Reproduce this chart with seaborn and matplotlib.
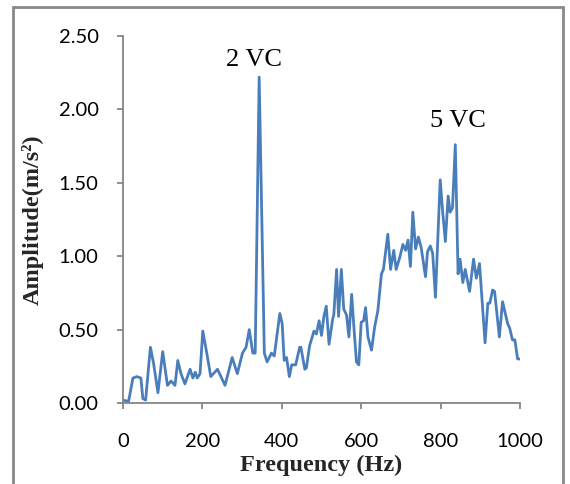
import matplotlib
matplotlib.use("Agg")
import matplotlib.pyplot as plt
from matplotlib.patches import Rectangle
import seaborn as sns
import pandas as pd

freq = [0, 14, 25, 35, 45, 50, 57, 69, 77, 88, 100, 112, 121, 131, 138, 146, 156, 169, 176, 182,
        187, 194, 201, 211, 221, 238, 257, 275, 288, 301, 310, 318, 327, 333, 343, 356, 363, 374, 381, 395,
        401, 406, 412, 419, 425, 435, 445, 448, 458, 462, 470, 481, 487, 494, 500, 506, 512, 519, 528, 531,
        538, 543, 550, 556, 563, 569, 576, 581, 588, 594, 600, 606, 611, 617, 626, 634, 642, 651, 656, 667,
        674, 682, 688, 697, 705, 712, 718, 724, 730, 737, 744, 751, 762, 767, 774, 780, 787, 799, 805, 812,
        819, 824, 830, 837, 844, 849, 856, 862, 873, 883, 890, 898, 912, 919, 924, 931, 936, 948, 956, 969,
        974, 981, 987, 994, 999]
amplitude = [0.02, 0.01, 0.17, 0.18, 0.17, 0.03, 0.02, 0.38, 0.27, 0.07, 0.35, 0.12, 0.15, 0.12, 0.29, 0.20, 0.13, 0.23, 0.17, 0.21,
             0.17, 0.20, 0.49, 0.34, 0.18, 0.23, 0.12, 0.31, 0.20, 0.34, 0.38, 0.50, 0.34, 0.34, 2.22, 0.34, 0.28, 0.34, 0.32, 0.61,
             0.54, 0.29, 0.31, 0.18, 0.26, 0.26, 0.38, 0.38, 0.23, 0.24, 0.39, 0.49, 0.47, 0.56, 0.46, 0.59, 0.66, 0.40, 0.57, 0.60,
             0.91, 0.59, 0.91, 0.64, 0.60, 0.45, 0.74, 0.54, 0.28, 0.26, 0.55, 0.56, 0.65, 0.45, 0.36, 0.52, 0.63, 0.88, 0.91, 1.15,
             0.91, 1.04, 0.91, 0.99, 1.08, 1.04, 1.11, 0.93, 1.30, 1.05, 1.13, 1.06, 0.86, 1.03, 1.07, 1.02, 0.72, 1.52, 1.31, 1.10,
             1.41, 1.30, 1.33, 1.76, 0.88, 0.98, 0.82, 0.91, 0.76, 0.98, 0.85, 0.95, 0.41, 0.68, 0.68, 0.77, 0.76, 0.45, 0.69, 0.54,
             0.51, 0.43, 0.43, 0.30, 0.30]

x_ticks = [0, 200, 400, 600, 800, 1000]
x_tick_labels = ["0", "200", "400", "600", "800", "1000"]
y_ticks = [0.0, 0.5, 1.0, 1.5, 2.0, 2.5]
y_tick_labels = ["0.00", "0.50", "1.00", "1.50", "2.00", "2.50"]

annotations = ["2 VC", "5 VC"]
annotation_freq = [343, 837]
annotation_amp = [2.22, 1.76]

x_label = "Frequency (Hz)"
y_label = "Amplitude(m/s²)"

df = pd.DataFrame({"Frequency": freq, "Amplitude": amplitude})

sns.set_style("white")
plt.rcParams["font.family"] = ["Lato", "DejaVu Sans"]

fig = plt.figure(figsize=(5.70, 4.84), dpi=100)
ax = fig.add_axes([123 / 570, 1 - 403 / 484, 397 / 570, 367 / 484])

line_color = "#4a7ebb"
sns.lineplot(data=df, x="Frequency", y="Amplitude", ax=ax, color=line_color,
             linewidth=2.0, sort=False)
for l in ax.lines:
    l.set_solid_joinstyle("round")
    l.set_solid_capstyle("round")

ax.set_xlim(0, 1000)
ax.set_ylim(0, 2.5)
ax.set_xticks(x_ticks)
ax.set_xticklabels(x_tick_labels)
ax.set_yticks(y_ticks)
ax.set_yticklabels(y_tick_labels)

gray = "#868686"
for side in ["top", "right"]:
    ax.spines[side].set_visible(False)
for side in ["left", "bottom"]:
    ax.spines[side].set_color(gray)
    ax.spines[side].set_linewidth(1.3)

ax.tick_params(axis="both", direction="out", length=4.5, width=1.3, color=gray,
               labelsize=14.5, labelcolor="black")
ax.tick_params(axis="x", pad=17, bottom=True)
ax.tick_params(axis="y", pad=13, left=True)

serif = ["Liberation Serif", "DejaVu Serif"]
ax.set_xlabel(x_label, fontsize=17.5, fontweight="bold", family=serif)
ax.set_ylabel(y_label, fontsize=17.5, fontweight="bold", family=serif)
ax.xaxis.set_label_coords(0.5, (403 - 465) / 367)
ax.xaxis.label.set_verticalalignment("center")
ax.yaxis.set_label_coords((33 - 123) / 397, 0.5)
ax.yaxis.label.set_verticalalignment("center")

offsets = [(254 - (123 + 343 * 0.397), 60 - 76.7), (458 - (123 + 837 * 0.397), 120 - 143.3)]
for txt, fx, fy, off in zip(annotations, annotation_freq, annotation_amp, offsets):
    ax.annotate(txt, xy=(fx, fy), xytext=(off[0] * 0.72, -off[1] * 0.72),
                textcoords="offset points", ha="center", va="center",
                fontsize=19, family=serif, color="black")

fig.patches.append(Rectangle((13 / 570, -0.05), (563 - 13) / 570, 1 - 7 / 484 + 0.05,
                             transform=fig.transFigure, fill=False,
                             edgecolor="#888888", linewidth=2.0))

fig.savefig("out.png", dpi=100)
